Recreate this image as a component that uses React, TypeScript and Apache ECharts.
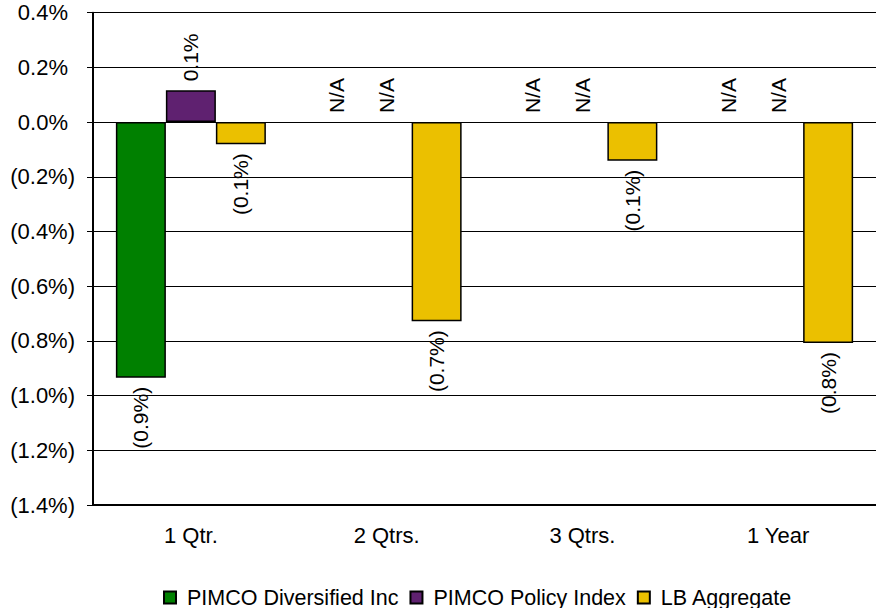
import React, { useEffect, useRef } from "react";
import * as echarts from "echarts";

const categories = ["1 Qtr.", "2 Qtrs.", "3 Qtrs.", "1 Year"];
const seriesNames = ["PIMCO Diversified Inc", "PIMCO Policy Index", "LB Aggregate"];
const diversified: (number | null)[] = [-0.935, null, null, null];
const policyIndex: (number | null)[] = [0.116, null, null, null];
const lbAggregate: (number | null)[] = [-0.081, -0.728, -0.141, -0.808];
const seriesColors = ["#008000", "#5F2170", "#EBC000"];
const yTicks = { min: -1.4, max: 0.4, interval: 0.2 };

const FONT = "'Liberation Sans', Arial, sans-serif";

function pct(v: number): string {
  const r = Math.round(v * 10) / 10;
  if (r < 0) return `(${Math.abs(r).toFixed(1)}%)`;
  return `${Math.abs(r).toFixed(1)}%`;
}

function buildData(values: (number | null)[]) {
  return values.map((v) => {
    if (v === null) {
      return {
        value: 0,
        itemStyle: { color: "transparent", borderWidth: 0 },
        label: {
          show: true,
          position: "top",
          align: "left",
          verticalAlign: "middle",
          formatter: "N/A",
        },
      };
    }
    const neg = v < 0;
    return {
      value: v,
      label: {
        show: true,
        position: neg ? "bottom" : "top",
        align: neg ? "right" : "left",
        verticalAlign: "middle",
        formatter: pct(v),
      },
    };
  });
}

export default function App() {
  const ref = useRef<HTMLDivElement>(null);
  useEffect(() => {
    if (!ref.current) return;
    const chart = echarts.init(ref.current, null, { renderer: "svg" });
    const all = [diversified, policyIndex, lbAggregate];
    chart.setOption({
      animation: false,
      backgroundColor: "#ffffff",
      textStyle: { fontFamily: FONT },
      grid: { left: 93, top: 12.7, width: 788, height: 492.3, containLabel: false },
      xAxis: {
        type: "category",
        data: categories,
        axisLine: { show: true, onZero: false, lineStyle: { color: "#000", width: 2 } },
        axisTick: { show: false },
        axisLabel: { color: "#000", fontSize: 22, fontFamily: FONT, margin: 19 },
        splitLine: { show: false },
      },
      yAxis: {
        type: "value",
        min: yTicks.min,
        max: yTicks.max,
        interval: yTicks.interval,
        axisLine: { show: true, lineStyle: { color: "#000", width: 2 } },
        axisTick: { show: true, length: 6, lineStyle: { color: "#000", width: 1 } },
        axisLabel: {
          color: "#000",
          fontSize: 22,
          fontFamily: FONT,
          margin: 18,
          formatter: (v: number) => {
            const s = pct(v);
            return s.startsWith("(") ? `{n|${s}}` : `{p|${s}}`;
          },
          rich: {
            n: { fontSize: 22, fontFamily: FONT, color: "#000" },
            p: { fontSize: 22, fontFamily: FONT, color: "#000", padding: [0, 7, 0, 0] },
          },
        },
        splitLine: { show: true, lineStyle: { color: "#000", width: 1 } },
      },
      legend: {
        left: 163,
        top: 586.5,
        padding: 0,
        itemWidth: 12,
        itemHeight: 12,
        itemGap: 11,
        icon: "rect",
        textStyle: {
          color: "#000",
          fontSize: 21.5,
          fontFamily: FONT,
          lineHeight: 22,
          padding: [0, 0, 0, 6],
        },
        data: seriesNames,
      },
      series: all.map((vals, i) => ({
        type: "bar",
        name: seriesNames[i],
        data: buildData(vals),
        barWidth: 50,
        barGap: "0%",
        itemStyle: { color: seriesColors[i], borderColor: "#000", borderWidth: 1.5 },
        label: {
          show: true,
          rotate: 90,
          distance: 9,
          color: "#000",
          fontSize: 21,
          fontFamily: FONT,
        },
      })),
    });
    return () => chart.dispose();
  }, []);
  return (
    <div
      ref={ref}
      style={{ position: "fixed", left: 0, top: 0, width: 876, height: 608 }}
    />
  );
}
